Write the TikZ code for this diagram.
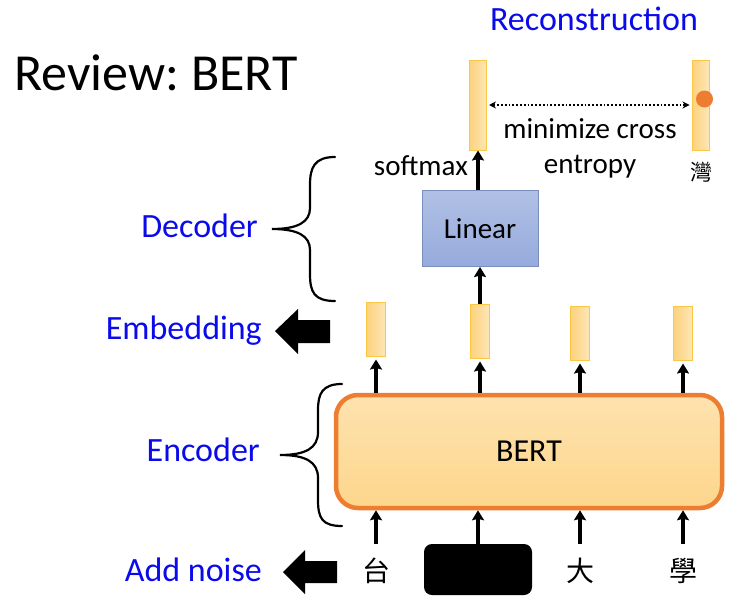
\documentclass[tikz,border=0pt]{standalone}
\usepackage{fontspec}
\setmainfont{Carlito}
\newfontfamily\cjkfont{Noto Sans CJK TC}
\usepackage{tikz}
\usetikzlibrary{positioning}
\usetikzlibrary{arrows.meta}

\definecolor{labelblue}{RGB}{10,10,235}
\definecolor{barfill}{RGB}{252,210,125}
\definecolor{barline}{RGB}{250,200,70}
\definecolor{bertfill}{RGB}{253,214,140}
\definecolor{bertline}{RGB}{237,125,49}
\definecolor{linfill}{RGB}{150,171,220}
\definecolor{linline}{RGB}{122,141,188}

\begin{document}
\begin{tikzpicture}[x=1pt,y=1pt,yscale=-1,xscale=1,
    vec/.style={draw=barline, line width=1pt, left color=barfill, right color=barfill!55!white, inner sep=0pt},
    upar/.style={line width=3.2pt, -{Stealth[length=10pt,width=12pt,inset=1.5pt]}},
    bluelabel/.style={text=labelblue, font=\fontsize{34}{40}\selectfont, inner sep=0pt},
    plain/.style={font=\fontsize{29}{34}\selectfont, inner sep=0pt},
    token/.style={font=\cjkfont\fontsize{28}{30}\selectfont, minimum height=54pt, inner sep=0pt},
    bracepath/.style={line width=2.2pt, line cap=round},
    fatarrow/.style={fill=black}]
        \useasboundingbox (0,0) rectangle (743,610);

        % Text Node
        \node [anchor=base west, inner sep=0pt, font=\fontsize{52}{60}\selectfont] (title) at (14,90) {Review:\hspace{-4pt} BERT};
        % Text Node
        \node [bluelabel, anchor=base] (recon) at (594,31) {Reconstruction};

        %Shape: Rectangle (output vectors)
        \node [vec, minimum width=17pt, minimum height=90pt] (r1) at (478,105) {};
        \node [vec, minimum width=17pt, minimum height=90pt] (r2) at (700.5,105) {};
        \fill [bertline] (704.5,99) circle (8.5);
        %Straight Lines
        \draw [line width=1.8pt, dotted, {Stealth[length=7pt,width=7pt]}-{Stealth[length=7pt,width=7pt]}, shorten <=2pt, shorten >=2pt] (r1.east) -- (r2.west);

        % Text Node
        \node [plain, anchor=base] (mini) at (590,138) {minimize cross};
        \node [plain, anchor=base] (entr) at (590,173) {entropy};
        \node [plain, anchor=base east] (soft) at (468,175) {softmax};
        \node [font=\cjkfont\fontsize{22}{24}\selectfont, inner sep=0pt] (wan) at (701,172) {灣};

        %Shape: Rectangle (decoder)
        \node [draw=linline, line width=1pt, top color=linfill!75!white, bottom color=linfill, minimum width=116pt, minimum height=76pt, plain] (lin) at (480,228.5) {Linear};

        %Shape: Rectangle (embeddings)
        \node [vec, minimum width=19pt, minimum height=54pt] (e1) at (376,329) {};
        \node [vec, minimum width=19pt, minimum height=54pt] (e2) at (480,331) {};
        \node [vec, minimum width=19pt, minimum height=54pt] (e3) at (580,333) {};
        \node [vec, minimum width=19pt, minimum height=54pt] (e4) at (683,333) {};

        %Shape: Rounded Rectangle (encoder)
        \node [draw=bertline, line width=4.5pt, rounded corners=22pt, top color=bertfill!70!white, bottom color=bertfill, minimum width=386pt, minimum height=113pt, font=\fontsize{32}{36}\selectfont] (bert) at (529,451.5) {BERT};

        % Text Node (inputs)
        \node [token] (t1) at (376,571) {台};
        \node [fill=black, rounded corners=8pt, minimum width=108pt, minimum height=51pt] (mask) at (478,569.5) {};
        \node [token] (t3) at (580,571) {大};
        \node [token] (t4) at (683,571) {學};

        %Straight Lines
        \draw [upar] (t1.north) -- (t1 |- bert.south);
        \draw [upar] (mask.north) -- (mask |- bert.south);
        \draw [upar] (t3.north) -- (t3 |- bert.south);
        \draw [upar] (t4.north) -- (t4 |- bert.south);
        \draw [upar, shorten >=3pt] (e1 |- bert.north) -- (e1.south);
        \draw [upar, shorten >=3pt] (e2 |- bert.north) -- (e2.south);
        \draw [upar, shorten >=3pt] (e3 |- bert.north) -- (e3.south);
        \draw [upar, shorten >=3pt] (e4 |- bert.north) -- (e4.south);
        \draw [upar] (e2.north) -- (lin.south);
        \draw [upar] (r1 |- lin.north) -- (r1.south);

        %Curve Lines (braces)
        \coordinate (dtip) at (272,229);
        \draw [bracepath] (335,157) .. controls (314,157) and (310,168) .. (310,185) -- (310,208) .. controls (310,222) and (298,229) .. (dtip) .. controls (298,229) and (310,236) .. (310,250) -- (310,274) .. controls (310,292) and (314,301) .. (335,301);
        \coordinate (etip) at (280,455);
        \draw [bracepath] (342,384) .. controls (322,384) and (318,394) .. (318,410) -- (318,432) .. controls (318,448) and (306,455) .. (etip) .. controls (306,455) and (318,462) .. (318,478) -- (318,500) .. controls (318,518) and (322,526) .. (342,526);

        %Shape: Arrows
        \coordinate (embtip) at (275,331);
        \fill [fatarrow] (embtip) -- (298,309) -- (298,320) -- (330,320) -- (330,343) -- (298,343) -- (298,354) -- cycle;
        \coordinate (noisetip) at (283,572);
        \fill [fatarrow] (noisetip) -- (305,550) -- (305,561) -- (337,561) -- (337,583) -- (305,583) -- (305,594) -- cycle;

        % Text Node
        \node [bluelabel, anchor=east, left=14pt of dtip, yshift=3pt] (dec) {Decoder};
        \node [bluelabel, anchor=east, left=20pt of etip, yshift=5pt] (enc) {Encoder};
        \node [bluelabel, anchor=east, left=13pt of embtip] (emb) {Embedding};
        \node [bluelabel, anchor=east, left=21pt of noisetip, yshift=2pt] (noise) {Add noise};

    \end{tikzpicture}
\end{document}
